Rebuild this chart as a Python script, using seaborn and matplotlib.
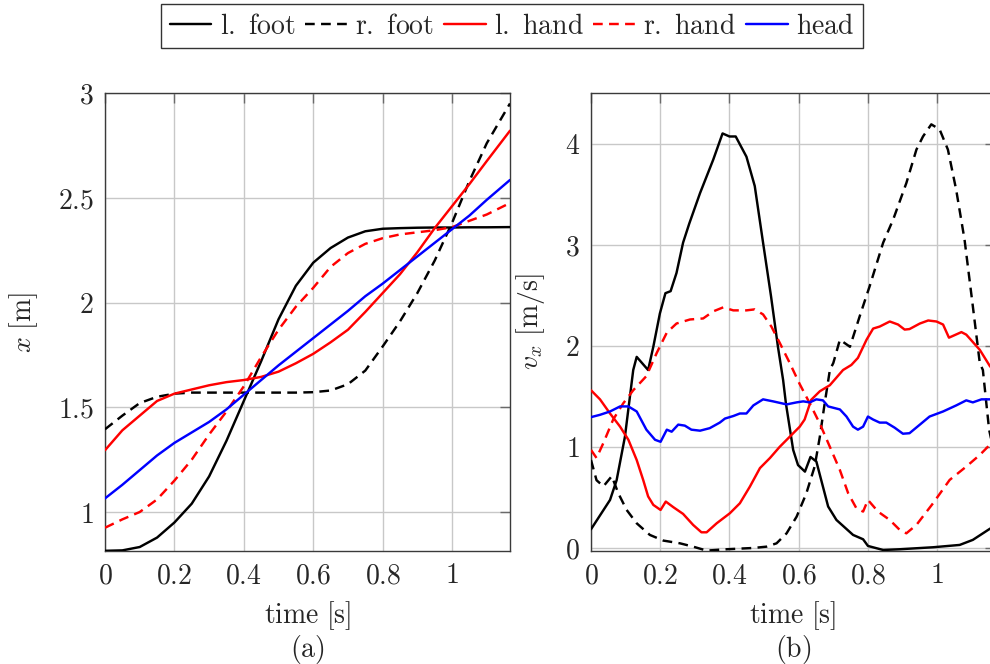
import numpy as np
import pandas as pd
import matplotlib
matplotlib.use("Agg")
import matplotlib.pyplot as plt
import seaborn as sns
from matplotlib.lines import Line2D

# ---------------------------------------------------------------- data
parts = ["l. foot", "r. foot", "l. hand", "r. hand", "head"]
part_colors = ["black", "black", "red", "red", "blue"]
part_dashed = [False, True, False, True, False]

# (a) horizontal position x [m]
t_pos = [0.0, 0.05, 0.1, 0.15, 0.2, 0.25, 0.3, 0.35, 0.4, 0.45, 0.5, 0.55,
         0.6, 0.65, 0.7, 0.75, 0.8, 0.85, 0.9, 0.95, 1.0, 1.05, 1.1, 1.167]
x_lfoot = [0.815, 0.817, 0.833, 0.878, 0.95, 1.04, 1.17, 1.34, 1.53, 1.72, 1.92, 2.08,
           2.19, 2.26, 2.31, 2.34, 2.352, 2.355, 2.357, 2.358, 2.358, 2.359, 2.359, 2.36]
x_rfoot = [1.395, 1.46, 1.52, 1.55, 1.565, 1.57, 1.57, 1.57, 1.57, 1.57, 1.57, 1.57,
           1.572, 1.58, 1.61, 1.675, 1.79, 1.91, 2.045, 2.2, 2.38, 2.58, 2.76, 2.95]
x_lhand = [1.295, 1.39, 1.46, 1.53, 1.565, 1.585, 1.605, 1.62, 1.63, 1.645, 1.67, 1.71,
           1.755, 1.81, 1.87, 1.955, 2.045, 2.135, 2.24, 2.355, 2.46, 2.565, 2.675, 2.82]
x_rhand = [0.925, 0.965, 1.0, 1.06, 1.15, 1.25, 1.37, 1.48, 1.6, 1.74, 1.87, 1.98,
           2.07, 2.17, 2.236, 2.28, 2.307, 2.325, 2.335, 2.345, 2.36, 2.39, 2.42, 2.475]
x_head = [1.065, 1.13, 1.2, 1.27, 1.33, 1.38, 1.43, 1.49, 1.56, 1.63, 1.70, 1.765,
          1.83, 1.895, 1.96, 2.03, 2.09, 2.155, 2.22, 2.285, 2.35, 2.415, 2.49, 2.585]

# (b) horizontal velocity v_x [m/s]
t_v_lfoot = [0.0, 0.055, 0.074, 0.098, 0.122, 0.132, 0.165, 0.18, 0.199, 0.215, 0.23,
             0.247, 0.266, 0.284, 0.315, 0.353, 0.38, 0.40, 0.418, 0.449, 0.473, 0.497,
             0.52, 0.54, 0.555, 0.563, 0.584, 0.598, 0.618, 0.634, 0.651, 0.685, 0.709,
             0.757, 0.786, 0.80, 0.844, 0.89, 0.988, 1.065, 1.103, 1.15, 1.167]
v_lfoot = [0.185, 0.475, 0.67, 1.1, 1.76, 1.89, 1.76, 1.99, 2.32, 2.52, 2.54,
           2.72, 3.02, 3.21, 3.51, 3.84, 4.1, 4.07, 4.07, 3.87, 3.58, 3.02,
           2.49, 1.99, 1.66, 1.43, 0.97, 0.82, 0.755, 0.9, 0.855, 0.41, 0.277,
           0.129, 0.086, 0.02, -0.02, -0.013, 0.007, 0.03, 0.08, 0.185, 0.22]

t_v_rfoot = [0.0, 0.016, 0.036, 0.06, 0.079, 0.103, 0.132, 0.17, 0.209, 0.257, 0.295,
             0.334, 0.39, 0.469, 0.507, 0.536, 0.565, 0.594, 0.622, 0.646, 0.661, 0.675,
             0.69, 0.70, 0.719, 0.748, 0.776, 0.805, 0.844, 0.873, 0.911, 0.94, 0.959,
             0.983, 1.007, 1.031, 1.055, 1.079, 1.103, 1.123, 1.132, 1.142, 1.15, 1.167]
v_rfoot = [0.87, 0.67, 0.61, 0.71, 0.54, 0.376, 0.244, 0.129, 0.073, 0.046, 0.013,
           -0.026, -0.013, 0.0, 0.013, 0.046, 0.145, 0.31, 0.54, 0.805, 1.1, 1.43,
           1.76, 1.83, 2.06, 1.99, 2.29, 2.59, 3.02, 3.25, 3.61, 3.94, 4.07,
           4.19, 4.14, 3.94, 3.54, 3.05, 2.39, 1.83, 1.76, 1.43, 1.17, 0.9]

t_v_lhand = [0.0, 0.026, 0.055, 0.084, 0.108, 0.132, 0.151, 0.165, 0.18, 0.201, 0.216,
             0.238, 0.266, 0.295, 0.319, 0.334, 0.363, 0.401, 0.43, 0.459, 0.488, 0.517,
             0.545, 0.574, 0.603, 0.617, 0.636, 0.661, 0.69, 0.728, 0.752, 0.771, 0.796,
             0.815, 0.834, 0.863, 0.887, 0.906, 0.92, 0.95, 0.974, 0.998, 1.017, 1.034,
             1.07, 1.084, 1.123, 1.152, 1.167]
v_lhand = [1.56, 1.47, 1.33, 1.2, 1.07, 0.87, 0.67, 0.51, 0.426, 0.376, 0.459,
           0.403, 0.337, 0.228, 0.155, 0.155, 0.244, 0.343, 0.442, 0.607, 0.79, 0.89,
           1.0, 1.1, 1.2, 1.27, 1.465, 1.55, 1.61, 1.76, 1.81, 1.88, 2.06,
           2.17, 2.19, 2.24, 2.21, 2.16, 2.165, 2.22, 2.25, 2.24, 2.21, 2.08,
           2.135, 2.11, 1.96, 1.8, 1.74]

t_v_rhand = [0.0, 0.016, 0.036, 0.064, 0.093, 0.122, 0.16, 0.19, 0.219, 0.247, 0.286,
             0.324, 0.353, 0.382, 0.411, 0.449, 0.473, 0.497, 0.521, 0.545, 0.574, 0.603,
             0.632, 0.661, 0.69, 0.719, 0.743, 0.767, 0.786, 0.80, 0.829, 0.863, 0.892,
             0.911, 0.94, 0.988, 1.036, 1.084, 1.123, 1.152, 1.167]
v_rhand = [0.97, 0.89, 1.04, 1.27, 1.43, 1.56, 1.7, 1.93, 2.13, 2.22, 2.26,
           2.27, 2.34, 2.38, 2.35, 2.35, 2.36, 2.31, 2.19, 2.03, 1.83, 1.62,
           1.43, 1.23, 1.0, 0.77, 0.54, 0.39, 0.36, 0.475, 0.36, 0.277, 0.178,
           0.145, 0.228, 0.442, 0.673, 0.805, 0.92, 1.02, 1.06]

t_v_head = [0.0, 0.026, 0.055, 0.084, 0.108, 0.132, 0.16, 0.185, 0.201, 0.219, 0.233,
            0.252, 0.271, 0.29, 0.315, 0.343, 0.372, 0.387, 0.411, 0.43, 0.449, 0.469,
            0.497, 0.526, 0.565, 0.594, 0.613, 0.632, 0.651, 0.67, 0.685, 0.719, 0.738,
            0.757, 0.771, 0.786, 0.80, 0.815, 0.834, 0.853, 0.877, 0.901, 0.92, 0.95,
            0.978, 1.017, 1.055, 1.084, 1.103, 1.128, 1.15, 1.167]
v_head = [1.294, 1.317, 1.35, 1.4, 1.4, 1.35, 1.17, 1.07, 1.05, 1.17, 1.15,
          1.22, 1.21, 1.17, 1.16, 1.185, 1.24, 1.28, 1.305, 1.33, 1.33, 1.41,
          1.47, 1.45, 1.42, 1.44, 1.45, 1.44, 1.47, 1.46, 1.4, 1.37, 1.3,
          1.2, 1.17, 1.2, 1.3, 1.27, 1.24, 1.24, 1.19, 1.13, 1.135, 1.22,
          1.3, 1.35, 1.41, 1.46, 1.44, 1.47, 1.47, 1.47]

x_ticks = [0, 0.2, 0.4, 0.6, 0.8, 1.0]
x_tick_labels = ["0", "0.2", "0.4", "0.6", "0.8", "1"]
pos_ticks = [1.0, 1.5, 2.0, 2.5, 3.0]
pos_tick_labels = ["1", "1.5", "2", "2.5", "3"]
vel_ticks = [0, 1, 2, 3, 4]
vel_tick_labels = ["0", "1", "2", "3", "4"]

# ---------------------------------------------------------------- style
sns.set_style("white")
plt.rcParams["font.family"] = ["DejaVu Serif"]
plt.rcParams["mathtext.fontset"] = "cm"
plt.rcParams["axes.unicode_minus"] = False

FS = 20
LW = 1.75
DASH = (4.0, 2.6)
palette = dict(zip(parts, part_colors))
dashes = {p: (DASH if d else "") for p, d in zip(parts, part_dashed)}


def tex(s):
    return r"$\mathrm{" + s.replace(" ", r"\ ") + "}$"


def long_frame(times, values):
    frames = []
    for p, t, v in zip(parts, times, values):
        frames.append(pd.DataFrame({"time": t, "value": v, "part": p}))
    return pd.concat(frames, ignore_index=True)


pos_df = long_frame([t_pos] * 5, [x_lfoot, x_rfoot, x_lhand, x_rhand, x_head])
vel_df = long_frame([t_v_lfoot, t_v_rfoot, t_v_lhand, t_v_rhand, t_v_head],
                    [v_lfoot, v_rfoot, v_lhand, v_rhand, v_head])

W, H = 990, 664
fig = plt.figure(figsize=(W / 100, H / 100), dpi=100)
ax1 = fig.add_axes([105 / W, 1 - 551 / H, 405 / W, 458 / H])
ax2 = fig.add_axes([591 / W, 1 - 551 / H, 404 / W, 458 / H])

for ax, df in ((ax1, pos_df), (ax2, vel_df)):
    sns.lineplot(data=df, x="time", y="value", hue="part", style="part",
                 palette=palette, dashes=dashes, estimator=None, sort=True,
                 linewidth=LW, legend=False, ax=ax, zorder=3)

ax1.set_xlim(0, 1.167)
ax1.set_ylim(0.814, 3.0)
ax2.set_xlim(0, 1.167)
ax2.set_ylim(-0.03, 4.5)

ax1.set_yticks(pos_ticks, labels=["$" + s + "$" for s in pos_tick_labels])
ax2.set_yticks(vel_ticks, labels=["$" + s + "$" for s in vel_tick_labels])

for ax, cap in ((ax1, "(a)"), (ax2, "(b)")):
    ax.set_xticks(x_ticks, labels=["$" + s + "$" for s in x_tick_labels])
    ax.grid(True, color="#c8c8c8", linewidth=1.0, zorder=0)
    ax.set_axisbelow(True)
    for sp in ax.spines.values():
        sp.set_color("#3a3a3a")
        sp.set_linewidth(1.0)
    ax.tick_params(direction="in", length=7, width=1.0, color="#6a6a6a",
                   top=True, right=True, labelsize=FS, pad=8)
    ax.set_xlabel(tex("time [s]"), fontsize=FS, va="top")
    ax.xaxis.set_label_coords(0.5, -0.105)
    ax.text(0.5, -0.178, tex(cap), transform=ax.transAxes, ha="center",
            va="top", fontsize=FS)

ax1.set_ylabel(r"$x\ \mathrm{[m]}$", fontsize=FS)
ax1.yaxis.set_label_coords(-0.16, 0.5)
ax2.set_ylabel(r"$v_x\ \mathrm{[m/s]}$", fontsize=FS)
ax2.yaxis.set_label_coords(-0.108, 0.5)

handles = [Line2D([], [], color=c, linewidth=LW,
                  linestyle=((0, DASH) if d else "-"))
           for c, d in zip(part_colors, part_dashed)]
leg = fig.legend(handles, [tex(p) for p in parts], loc="center",
                 bbox_to_anchor=(512 / W, 1 - 26 / H), ncol=5, frameon=True,
                 fancybox=False, edgecolor="#333333", framealpha=1.0,
                 fontsize=FS, handlelength=1.5, handletextpad=0.3,
                 columnspacing=0.35, borderpad=0.3, borderaxespad=0)
leg.get_frame().set_linewidth(1.0)

fig.savefig("out.png", dpi=100)
